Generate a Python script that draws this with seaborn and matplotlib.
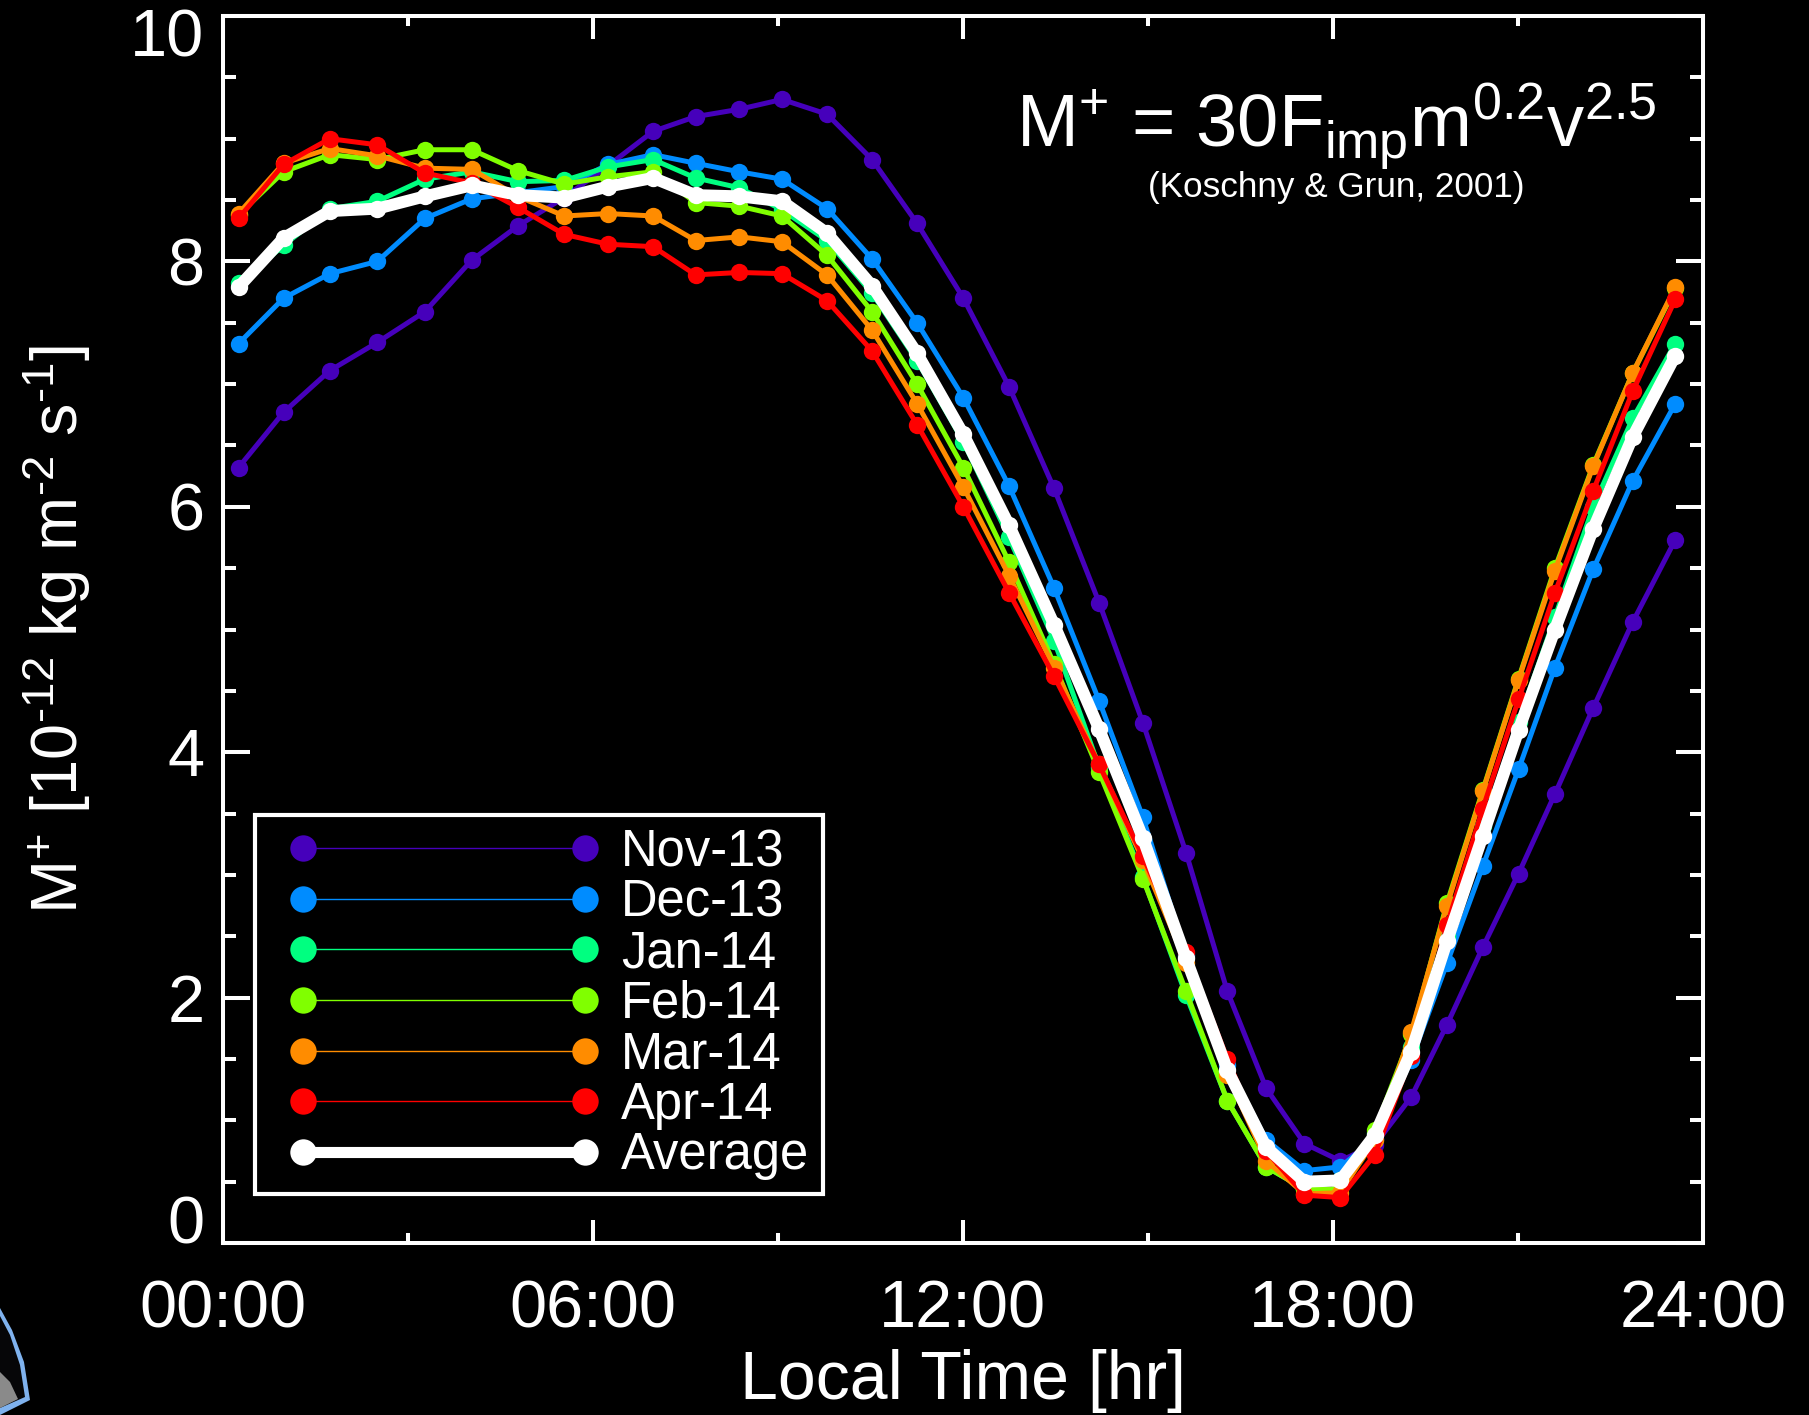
#!/usr/bin/env python3
import matplotlib
matplotlib.use('Agg')
import matplotlib.pyplot as plt
from matplotlib.legend_handler import HandlerLine2D
from matplotlib.lines import Line2D
from matplotlib.patches import Polygon
from matplotlib.ticker import MultipleLocator
from matplotlib.transforms import Affine2D
import numpy as np
import pandas as pd
import seaborn as sns

# local time of each sample, hours
hours = [0.26, 0.99, 1.74, 2.51, 3.28, 4.04, 4.79, 5.54, 6.25, 6.98, 7.67, 8.38, 9.07, 9.80,
         10.53, 11.26, 12.01, 12.75, 13.48, 14.21, 14.92, 15.62, 16.29, 16.92, 17.54, 18.12,
         18.68, 19.27, 19.85, 20.43, 21.01, 21.60, 22.22, 22.86, 23.55]

nov_13 = [6.32, 6.77, 7.11, 7.34, 7.59, 8.01, 8.29, 8.52, 8.78, 9.06, 9.18, 9.24, 9.32, 9.20,
          8.83, 8.31, 7.70, 6.98, 6.15, 5.22, 4.24, 3.18, 2.05, 1.26, 0.81, 0.67,
          0.80, 1.19, 1.78, 2.41, 3.01, 3.66, 4.36, 5.06, 5.73]
dec_13 = [7.33, 7.70, 7.90, 8.00, 8.35, 8.51, 8.56, 8.61, 8.79, 8.87, 8.80, 8.73, 8.67, 8.43,
          8.02, 7.50, 6.89, 6.17, 5.34, 4.42, 3.47, 2.35, 1.45, 0.84, 0.59, 0.62,
          0.85, 1.49, 2.28, 3.07, 3.86, 4.69, 5.49, 6.21, 6.84]
jan_14 = [7.82, 8.13, 8.43, 8.49, 8.67, 8.73, 8.65, 8.66, 8.77, 8.83, 8.68, 8.60, 8.42, 8.17,
          7.74, 7.19, 6.53, 5.75, 4.91, 3.88, 2.98, 2.02, 1.16, 0.62, 0.44, 0.51,
          0.90, 1.60, 2.50, 3.40, 4.25, 5.10, 6.00, 6.72, 7.33]
feb_14 = [8.38, 8.73, 8.87, 8.83, 8.91, 8.91, 8.74, 8.63, 8.69, 8.73, 8.48, 8.45, 8.37, 8.05,
          7.59, 7.00, 6.32, 5.55, 4.72, 3.84, 2.97, 2.05, 1.16, 0.62, 0.44, 0.44,
          0.92, 1.70, 2.77, 3.69, 4.60, 5.50, 6.34, 7.09, 7.78]
mar_14 = [8.39, 8.80, 8.92, 8.86, 8.76, 8.75, 8.53, 8.37, 8.39, 8.37, 8.17, 8.20, 8.16, 7.89,
          7.44, 6.84, 6.16, 5.44, 4.69, 3.90, 3.12, 2.28, 1.37, 0.67, 0.40, 0.41,
          0.84, 1.72, 2.75, 3.68, 4.59, 5.48, 6.33, 7.09, 7.79]
apr_14 = [8.35, 8.79, 9.00, 8.95, 8.72, 8.64, 8.44, 8.22, 8.14, 8.12, 7.89, 7.91, 7.90, 7.68,
          7.27, 6.67, 6.00, 5.30, 4.62, 3.90, 3.15, 2.37, 1.50, 0.75, 0.39, 0.37,
          0.72, 1.52, 2.59, 3.54, 4.43, 5.30, 6.13, 6.94, 7.69]
average = [7.79, 8.19, 8.41, 8.43, 8.53, 8.62, 8.54, 8.52, 8.61, 8.68, 8.54, 8.53, 8.49, 8.23,
           7.80, 7.25, 6.59, 5.85, 5.04, 4.19, 3.30, 2.32, 1.41, 0.78, 0.50, 0.51,
           0.88, 1.56, 2.46, 3.32, 4.18, 5.00, 5.82, 6.57, 7.23]

months = ['Nov-13', 'Dec-13', 'Jan-14', 'Feb-14', 'Mar-14', 'Apr-14']
month_values = [nov_13, dec_13, jan_14, feb_14, mar_14, apr_14]
colors = ['#4600BB', '#008CFF', '#00FF80', '#80FF00', '#FF8C00', '#FF0000']
x_ticks = [0, 6, 12, 18, 24]
x_tick_labels = ['00:00', '06:00', '12:00', '18:00', '24:00']
y_ticks = [0, 2, 4, 6, 8, 10]

W, H = 1809, 1415

sns.set_theme(style='ticks')
plt.rcParams['font.family'] = ['Liberation Sans', 'DejaVu Sans']
plt.rcParams['mathtext.fontset'] = 'custom'
plt.rcParams['mathtext.rm'] = 'Liberation Sans'
plt.rcParams['mathtext.default'] = 'regular'

fig = plt.figure(figsize=(W / 100, H / 100), dpi=100, facecolor='black')
ax = fig.add_axes([222.5 / W, 1 - 1243 / H, (1703 - 222.5) / W, (1243 - 16) / H], facecolor='black')

df = pd.concat([pd.DataFrame({'hour': hours, 'value': v, 'month': m}) for m, v in zip(months, month_values)])
sns.lineplot(data=df, x='hour', y='value', hue='month', hue_order=months, palette=colors, ax=ax,
             linewidth=3.6, marker='o', markersize=12.5, markeredgewidth=0, legend=False,
             errorbar=None, sort=False)
sns.lineplot(x=hours, y=average, color='white', ax=ax, linewidth=8.6, marker='o', markersize=12.5,
             markeredgewidth=0, legend=False, errorbar=None, sort=False)

ax.set_xlim(0, 24)
ax.set_ylim(0, 10)
ax.set_xticks(x_ticks, x_tick_labels)
ax.set_yticks(y_ticks, [str(t) for t in y_ticks])
ax.xaxis.set_minor_locator(MultipleLocator(3))
ax.yaxis.set_minor_locator(MultipleLocator(0.5))
ax.tick_params(which='both', direction='in', width=2.9, color='white', labelcolor='white',
               labelsize=48, top=True, right=True)
ax.tick_params(axis='x', which='major', length=16.5, pad=26)
ax.tick_params(axis='x', which='minor', length=7.5)
ax.tick_params(axis='y', which='major', length=19.5, pad=13)
ax.tick_params(axis='y', which='minor', length=9.5)
for spine in ax.spines.values():
    spine.set_color('white')
    spine.set_linewidth(2.9)

# end labels sit inside the axis range, shift in pixels
y_labels = ax.get_yticklabels()
y_labels[0].set_transform(y_labels[0].get_transform() + Affine2D().translate(0, 23))
y_labels[-1].set_transform(y_labels[-1].get_transform() + Affine2D().translate(0, -16.5))

ax.set_xlabel('Local Time [hr]', color='white', fontsize=49, labelpad=6)
ax.set_ylabel('M$^{+}$ [10$^{\u201012}$ kg m$^{\u20102}$ s$^{\u20101}$]', color='white', fontsize=46.7, labelpad=27)

ax.text(0.9683, 0.8924, 'M$^{+}$ = 30F$_{imp}$m$^{0.2}$v$^{2.5}$', transform=ax.transAxes, color='white',
        fontsize=53.5, ha='right', va='baseline')
ax.text(0.7526, 0.8606, '(Koschny & Grun, 2001)', transform=ax.transAxes, color='white',
        fontsize=25.3, ha='center', va='center')

handles = [Line2D([], [], color=c, lw=1, marker='o', ms=19, mew=0) for c in colors]
handles.append(Line2D([], [], color='white', lw=8, marker='o', ms=19, mew=0))
leg = ax.legend(handles, months + ['Average'], loc='lower left', bbox_to_anchor=(32.5 / 1480.5, 49 / 1227),
                numpoints=2, fontsize=36.5, frameon=True, fancybox=False, facecolor='black',
                edgecolor='white', framealpha=1, handlelength=6.9, handletextpad=0.05,
                labelspacing=0.03, borderpad=0.27, borderaxespad=0, labelcolor='white',
                handler_map={Line2D: HandlerLine2D(marker_pad=0.67)})
leg.get_frame().set_linewidth(3)

# corner of the mission badge at the lower left
outer = [(0, 1308), (12, 1330), (24, 1362), (30, 1400), (0, 1415)]
inner = [(0, 1316), (10, 1335), (20, 1365), (25, 1397), (0, 1408)]
moon = [(0, 1372), (10, 1382), (18, 1399), (0, 1408)]
for pts, col in [(outer, '#7FB2EE'), (inner, '#060608'), (moon, '#8A8A8A')]:
    fig.add_artist(Polygon([(x / W, 1 - y / H) for x, y in pts], closed=True, transform=fig.transFigure,
                           facecolor=col, edgecolor='none'))

fig.savefig('out.png', dpi=100, facecolor='black')
